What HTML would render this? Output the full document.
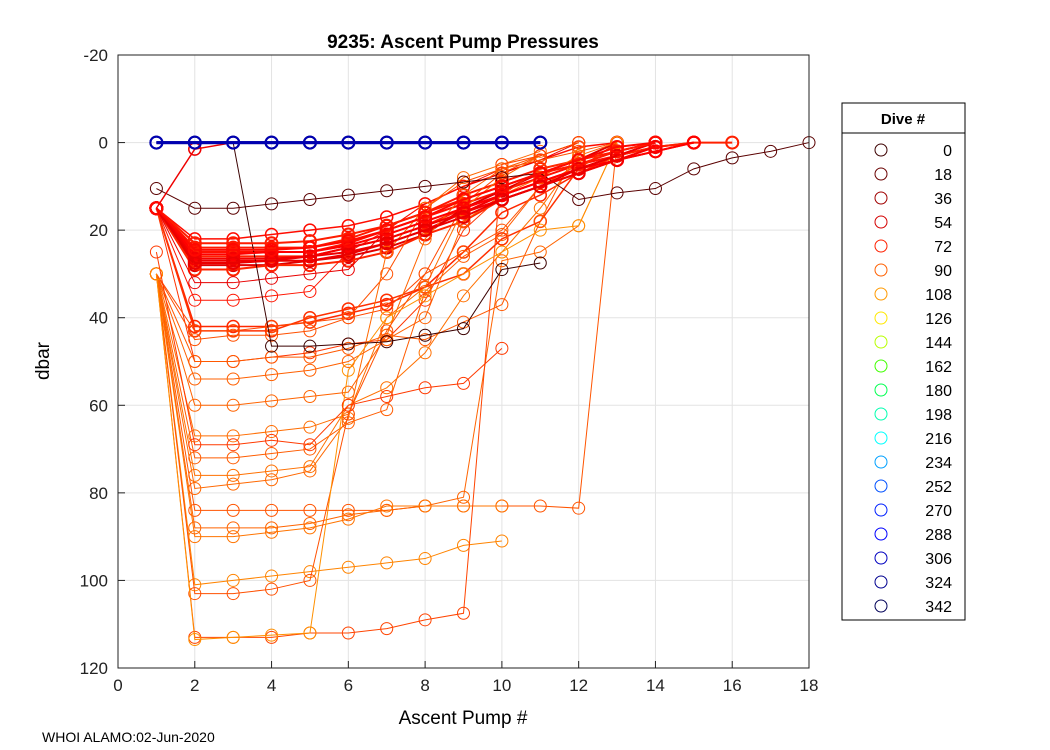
<!DOCTYPE html>
<html><head><meta charset="utf-8"><style>
body{margin:0;background:#fff;}
svg{display:block;font-family:"Liberation Sans",sans-serif;}
</style></head><body>
<svg id="chart" width="1050" height="750">
<rect width="1050" height="750" fill="#fff"/>
<g id="grid"></g>
<g id="series"></g>
<g id="axes"></g>
<text x="463" y="48" font-size="19" font-weight="bold" text-anchor="middle">9235: Ascent Pump Pressures</text>
<text x="463" y="724" font-size="19" text-anchor="middle">Ascent Pump #</text>
<text x="0" y="0" font-size="19" text-anchor="middle" transform="translate(49,361) rotate(-90)">dbar</text>
<text x="42" y="742" font-size="14">WHOI ALAMO:02-Jun-2020</text>
<g id="legend">
<rect x="842" y="103" width="123" height="517" fill="#fff" stroke="#000" stroke-width="1"/>
<text x="903" y="124" font-size="15" font-weight="bold" text-anchor="middle">Dive #</text>
<line x1="842" y1="133" x2="965" y2="133" stroke="#000"/>
</g>
</svg>
<script>
const xTicks=[0,2,4,6,8,10,12,14,16,18];
const yTicks=[-20,0,20,40,60,80,100,120];
const legendDives=[0,18,36,54,72,90,108,126,144,162,180,198,216,234,252,270,288,306,324,342];
const legendColors=['#3c0000','#6a0000','#a00000','#d40000','#ff2000','#ff6000','#ff9a00','#ffe800','#b8ff00','#40ff00','#00ff50','#00ffb0','#00ffff','#00a0ff','#0050ff','#0020ff','#0000ff','#0000c0','#000090','#000058'];
const seriesColors=['#ff1000','#ff1800','#ff2000','#f00000','#e00000','#ff0c00','#ff2400','#ff2800','#ff3000','#e80000','#ff1400','#ff3400','#ff4800','#ff5000','#ff5800','#ff6000','#ff6400','#ff6c00','#ff5c00','#ff7000','#ff6800','#ff5400','#ff6400','#ff7400','#ff8400','#ff5000','#ff4400','#ff9000','#ff3a00','#5a0000','#3a0000','#ee0000','#000080','#0000b0','#ff0000','#f40000','#ff1c00','#ea0000','#ff0800'];
const seriesValues=[
[15,25,25,25,25,23,20,17,14,11,8,5,3,1,0],
[15,24,24,24,24,22,19,16,12,9,6,4,2,0],
[15,26,26,26,26,24,22,19,15,12,9,6,3,1,0,0],
[15,27,27,27,26,25,23,20,16,12,9,6,3,0],
[15,28,28,28,27,26,24,21,15,11,7,4,0],
[15,22,22,21,20,19,17,14,10,7,4,1,0],
[15,29,29,28,28,27,25,21,18,13,10,7,4,2,0],
[15,42,42,42,41,39,37,33,25,16,12,7,3],
[15,43,43,43,40,38,36,33,30,22,18,6,0],
[15,32,32,31,30,29,20,14,10,7,4,0],
[15,36,36,35,34,25,20,14,10,6,3,0],
[15,50,50,49,48,46,45,36,20,12,6,4],
[30,43,43,42,41,40,38,30,14,7,3,0],
[30,45,44,44,43,40,30,15,9,6,4,2,0],
[30,50,50,49,49,47,44,45,41,37,18,1],
[30,54,54,53,52,50,45,40,18,12,8,3,0],
[30,60,60,59,58,57,44,22,12,6,3,0],
[30,67,67,66,65,62,40,33,15,8,3,0],
[30,72,72,71,70,64,61,34,26,21,10,5],
[30,76,76,75,74,60,56,48,35,25,15,3],
[30,79,78,77,75,63,25,15,8,5,2],
[30,84,84,84,84,84,84,83,83,83,83,83.5,0],
[30,88,88,88,87,85,84,83,81,27,25,19,0],
[30,90,90,89,88,86,83,83,83,83],
[30,101,100,99,98,97,96,95,92,91],
[30,103,103,102,100,62,43,30,25,20,10,5],
[30,113,113,113,112,112,111,109,107.5,5,3,0],
[30,113.5,113,112.5,112,52,40,35,30,25,20,19,0],
[25,69,69,68,69,60,58,56,55,47],
[10.5,15,15,14,13,12,11,10,9,8,7,13,11.5,10.5,6,3.5,2,0],
[0,0,0,46.5,46.5,46,45.5,44,42.5,29,27.5],
[15,1.5,0,0,0,0,0,0,0,0,0],
[0,0,0,0,0,0,0,0,0,0,0],
[0,0,0,0,0,0,0,0,0,0,0],
[15,25.5,25.5,25,25,23.5,21,18,15,12,9,6,4,2,0],
[15,26.5,26.5,26.5,26,24,22,19,16,13,10,7,4,1],
[15,23,23,23,22.5,21,19,16,13,10,7,5,2,0],
[15,27.5,27.5,27,27,25.5,23,20,17,13,10,6,3],
[15,24.5,24.5,24.5,24,22.5,20,17,13,10,7,4,1,0]
];
const seriesWidths=[2,2,2,2,2,1.5,2,1.5,1.5,1,1,1,1,1,1,1,1,1,1,1,1,1,1,1,1,1,1,1,1,1,1,1.5,3,3,2,2,2,2,2];
const L=118,R=809,T=55,B=668;
const xs=v=>L+(v-0)/18*(R-L);
const ys=v=>T+(v+20)/140*(B-T);
const NS='http://www.w3.org/2000/svg';
function mk(t,a,p){const e=document.createElementNS(NS,t);for(const k in a)e.setAttribute(k,a[k]);p.appendChild(e);return e;}
const grid=document.getElementById('grid'),axes=document.getElementById('axes'),ser=document.getElementById('series');
xTicks.forEach(t=>{
 const g=mk('line',{x1:xs(t),x2:xs(t),y1:T,y2:B,stroke:'#e3e3e3'},grid);
 
 
 const k1=mk('line',{x1:xs(t),x2:xs(t),y1:B,y2:B-7,stroke:'#222'},axes);
 
 
 const tx=mk('text',{x:xs(t),y:B+23,'font-size':17,'text-anchor':'middle',fill:'#222'},axes);tx.textContent=t;
 
 
});
yTicks.forEach(t=>{
 const g=mk('line',{x1:L,x2:R,y1:ys(t),y2:ys(t),stroke:'#e3e3e3'},grid);
 
 
 const k1=mk('line',{x1:L,x2:L+7,y1:ys(t),y2:ys(t),stroke:'#222'},axes);
 
 
 const tx=mk('text',{x:L-10,y:ys(t)+6,'font-size':17,'text-anchor':'end',fill:'#222'},axes);tx.textContent=t;
 
 
});
const fr=mk('rect',{x:L,y:T,width:R-L,height:B-T,fill:'none',stroke:'#222'},axes);


seriesValues.forEach((vals,i)=>{
 const c=seriesColors[i];const w=seriesWidths[i];
 const g=mk('g',{},ser);
 
 
 const pts=vals.map((v,j)=>xs(j+1)+','+ys(v)).join(' ');
 const pl=mk('polyline',{points:pts,fill:'none',stroke:c,'stroke-width':w},g);
 
 
 vals.forEach((v,j)=>{
  const m=mk('circle',{cx:xs(j+1),cy:ys(v),r:6,fill:'none',stroke:c,'stroke-width':Math.min(w,2)},g);
  
  
 });
});
const leg=document.getElementById('legend');
legendDives.forEach((d,i)=>{
 const y=150+i*24;
 const c=mk('circle',{cx:881,cy:y,r:6,fill:'none',stroke:legendColors[i]},leg);
 
 
 const t=mk('text',{x:952,y:y+6,'font-size':16,'text-anchor':'end'},leg);t.textContent=d;
 
 
});
</script>
</body></html>
